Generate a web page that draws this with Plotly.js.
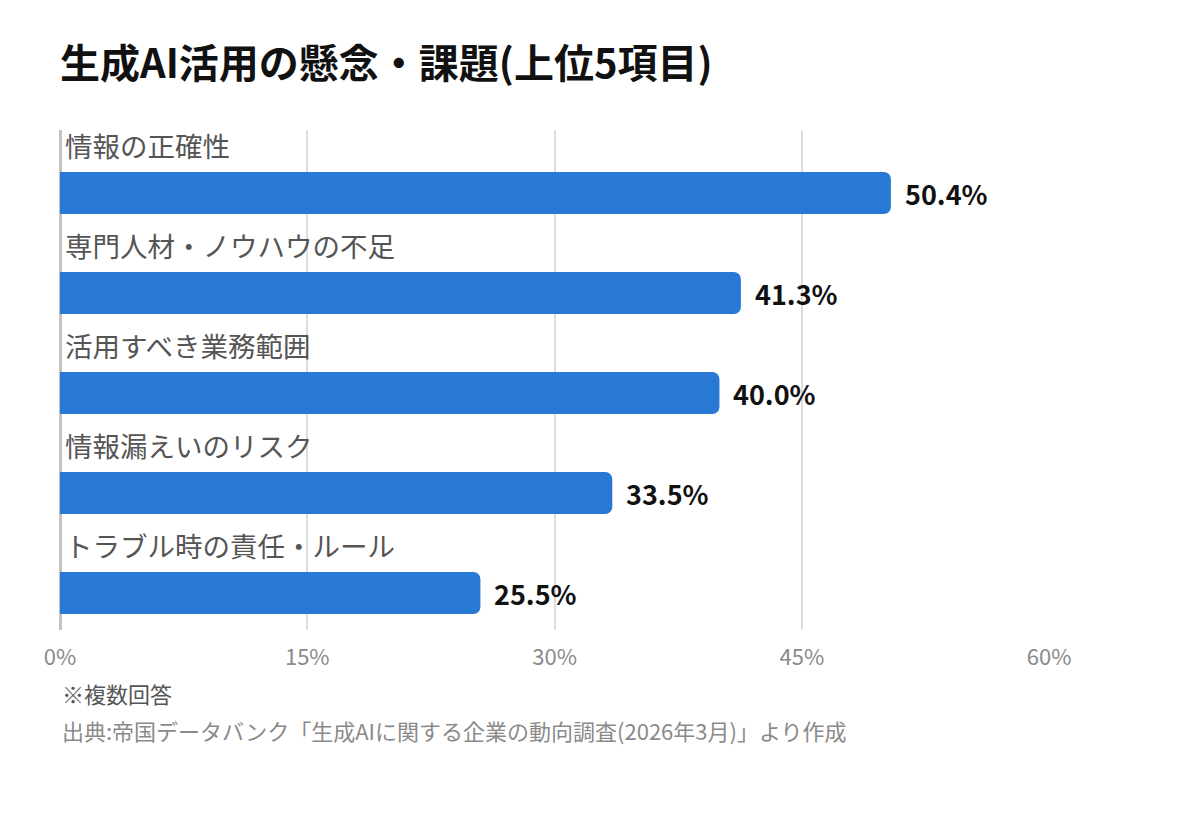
<!DOCTYPE html>
<html>
<head>
<meta charset="utf-8">
<script src="https://cdn.plot.ly/plotly-3.0.1.min.js"></script>
<style>html,body{margin:0;padding:0;background:#fff;}#chart{width:1200px;height:815px;}</style>
</head>
<body>
<div id="chart"></div>
<script>
const categories = ["情報の正確性", "専門人材・ノウハウの不足", "活用すべき業務範囲", "情報漏えいのリスク", "トラブル時の責任・ルール"];
const values = [50.4, 41.3, 40.0, 33.5, 25.5];
const valueLabels = ["50.4%", "41.3%", "40.0%", "33.5%", "25.5%"];
const tickValues = [0, 15, 30, 45, 60];
const tickLabels = ["0%", "15%", "30%", "45%", "60%"];
const titleText = "生成AI活用の懸念・課題(上位5項目)";
const noteText = "※複数回答";
const sourceText = "出典:帝国データバンク「生成AIに関する企業の動向調査(2026年3月)」より作成";

const FONT = "Noto Sans CJK JP, Noto Sans, sans-serif";

const trace = {
  type: "bar",
  orientation: "h",
  x: values,
  y: categories,
  width: 0.42,
  offset: -0.08,
  marker: {color: "#2878D6", cornerradius: 7},
  hoverinfo: "skip"
};

const annotations = [];
categories.forEach((c, i) => {
  annotations.push({
    x: 0, y: c, xref: "x", yref: "y",
    text: c, showarrow: false, xanchor: "left", yanchor: "middle",
    xshift: 3, yshift: 35,
    font: {family: FONT, size: 27.5, color: "#555555"}
  });
  annotations.push({
    x: values[i], y: c, xref: "x", yref: "y",
    text: "<b>" + valueLabels[i] + "</b>", showarrow: false, xanchor: "left", yanchor: "middle",
    xshift: 12, yshift: -13,
    font: {family: FONT, size: 27, color: "#111111"}
  });
});
annotations.push({
  x: 0, y: -0.126, xref: "paper", yref: "paper", text: noteText, showarrow: false,
  xanchor: "left", yanchor: "middle", xshift: 0,
  font: {family: FONT, size: 22, color: "#555555"}
});
annotations.push({
  x: 0, y: -0.2, xref: "paper", yref: "paper", text: sourceText, showarrow: false,
  xanchor: "left", yanchor: "middle", xshift: 0,
  font: {family: FONT, size: 22, color: "#8a8a8a"}
});

const layout = {
  width: 1200, height: 815,
  margin: {l: 60, r: 150, t: 130, b: 185},
  paper_bgcolor: "#ffffff", plot_bgcolor: "#ffffff",
  showlegend: false,
  title: {
    text: "<b>" + titleText + "</b>",
    x: 60 / 1200, xanchor: "left", xref: "container",
    y: 1 - 64 / 815, yanchor: "middle", yref: "container",
    font: {family: FONT, size: 40, color: "#111111"}
  },
  xaxis: {
    range: [0, 60.05],
    tickvals: tickValues, ticktext: tickLabels,
    showgrid: true, gridcolor: "#dddddd", gridwidth: 2,
    zeroline: true, zerolinecolor: "#c4c4bc", zerolinewidth: 3,
    showline: false, ticks: "", ticklabelstandoff: 12,
    tickfont: {family: FONT, size: 22, color: "#8a8a8a"},
    fixedrange: true
  },
  yaxis: {
    type: "category",
    categoryorder: "array", categoryarray: categories,
    range: [4.5, -0.5],
    showticklabels: false, showgrid: false, zeroline: false, showline: false, ticks: "",
    fixedrange: true
  },
  annotations: annotations
};

Plotly.newPlot("chart", [trace], layout, {displayModeBar: false, staticPlot: true});
</script>
</body>
</html>
